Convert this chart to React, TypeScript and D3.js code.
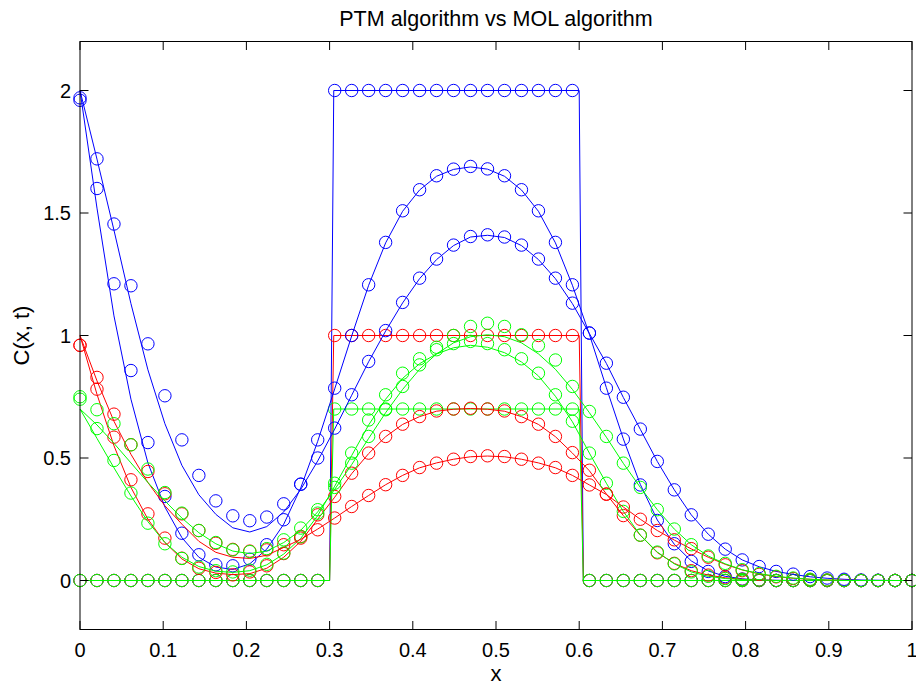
import React from 'react';
import * as d3 from 'd3';

const W = 916;
const H = 685;

// grid of the markers (50 equally spaced points on [0,1])
const xGrid = d3.range(50).map((i) => i / 49);

// initial step (t = 0), drawn as lines
const stepX = [0, 0.3, 0.305, 0.6, 0.605, 1];
const stepBlueLine = [0, 0, 2, 2, 0, 0];
const stepRedLine = [0, 0, 1, 1, 0, 0];
const stepGreenLine = [0, 0, 0.7, 0.7, 0, 0];

// initial step, markers
const stepBlueMarks = [
  0, 0, 0, 0, 0, 0, 0, 0, 0, 0, 0, 0, 0, 0, 0,
  2, 2, 2, 2, 2, 2, 2, 2, 2, 2, 2, 2, 2, 2, 2,
  0, 0, 0, 0, 0, 0, 0, 0, 0, 0, 0, 0, 0, 0, 0, 0, 0, 0, 0, 0,
];
const stepRedMarks = [
  0, 0, 0, 0, 0, 0, 0, 0, 0, 0, 0, 0, 0, 0, 0,
  1, 1, 1, 1, 1, 1, 1, 1, 1, 1, 1, 1, 1, 1, 1,
  0, 0, 0, 0, 0, 0, 0, 0, 0, 0, 0, 0, 0, 0, 0, 0, 0, 0, 0, 0,
];
const stepGreenMarks = [
  0, 0, 0, 0, 0, 0, 0, 0, 0, 0, 0, 0, 0, 0, 0,
  0.7, 0.7, 0.7, 0.7, 0.7, 0.7, 0.7, 0.7, 0.7, 0.7, 0.7, 0.7, 0.7, 0.7, 0.7,
  0, 0, 0, 0, 0, 0, 0, 0, 0, 0, 0, 0, 0, 0, 0, 0, 0, 0, 0, 0,
];

// blue, first time
const blueT1Marks = [
  1.96, 1.6, 1.211, 0.857, 0.563, 0.343, 0.193, 0.105, 0.064, 0.06,
  0.087, 0.146, 0.248, 0.393, 0.574, 0.785, 1.0, 1.207, 1.38, 1.509,
  1.595, 1.652, 1.679, 1.69, 1.68, 1.652, 1.595, 1.509, 1.38, 1.207,
  1.01, 0.785, 0.577, 0.39, 0.245, 0.15, 0.078, 0.037, 0.016, 0.006,
  0.002, 0, 0, 0, 0, 0, 0, 0, 0, 0,
];
const blueT1Line = [
  2.0, 1.52, 1.08, 0.74, 0.48, 0.3, 0.175, 0.095, 0.055, 0.045,
  0.068, 0.128, 0.23, 0.378, 0.568, 0.782, 0.998, 1.205, 1.378, 1.507,
  1.594, 1.65, 1.678, 1.688, 1.679, 1.65, 1.594, 1.507, 1.378, 1.205,
  1.005, 0.787, 0.578, 0.392, 0.247, 0.148, 0.08, 0.039, 0.017, 0.007,
  0.002, 0.001, 0, 0, 0, 0, 0, 0, 0, 0,
];
// blue, second time
const blueT2Marks = [
  1.97, 1.721, 1.455, 1.203, 0.966, 0.754, 0.574, 0.429, 0.325, 0.264,
  0.244, 0.259, 0.313, 0.393, 0.5, 0.622, 0.758, 0.894, 1.02, 1.135,
  1.234, 1.312, 1.369, 1.404, 1.411, 1.402, 1.369, 1.312, 1.234, 1.132,
  1.01, 0.887, 0.748, 0.618, 0.486, 0.37, 0.268, 0.189, 0.128, 0.084,
  0.057, 0.037, 0.026, 0.016, 0.01, 0.005, 0.002, 0.001, 0, 0,
];
const blueT2Line = [
  2.0, 1.72, 1.43, 1.13, 0.86, 0.64, 0.47, 0.35, 0.27, 0.215,
  0.198, 0.22, 0.28, 0.372, 0.488, 0.618, 0.756, 0.893, 1.018, 1.133,
  1.232, 1.31, 1.367, 1.402, 1.409, 1.4, 1.367, 1.31, 1.232, 1.13,
  1.008, 0.886, 0.747, 0.617, 0.486, 0.37, 0.268, 0.189, 0.128, 0.084,
  0.056, 0.037, 0.025, 0.015, 0.009, 0.005, 0.002, 0.001, 0, 0,
];

// red, first time
const redT1Marks = [
  0.96, 0.781, 0.585, 0.411, 0.272, 0.173, 0.091, 0.05, 0.033, 0.023,
  0.035, 0.06, 0.11, 0.18, 0.268, 0.343, 0.438, 0.52, 0.588, 0.638,
  0.669, 0.692, 0.7, 0.703, 0.7, 0.692, 0.669, 0.638, 0.588, 0.522,
  0.45, 0.353, 0.265, 0.185, 0.113, 0.07, 0.04, 0.022, 0.011, 0.005,
  0.002, 0, 0, 0, 0, 0, 0, 0, 0, 0,
];
const redT1Line = [
  1.0, 0.76, 0.55, 0.38, 0.25, 0.155, 0.088, 0.048, 0.03, 0.024,
  0.028, 0.05, 0.095, 0.16, 0.25, 0.34, 0.436, 0.518, 0.587, 0.637,
  0.669, 0.691, 0.699, 0.702, 0.699, 0.691, 0.669, 0.637, 0.587, 0.52,
  0.448, 0.353, 0.265, 0.185, 0.114, 0.07, 0.04, 0.022, 0.011, 0.005,
  0.002, 0, 0, 0, 0, 0, 0, 0, 0, 0,
];
// red, second time
const redT2Marks = [
  0.96, 0.829, 0.679, 0.554, 0.445, 0.354, 0.272, 0.204, 0.152, 0.127,
  0.12, 0.125, 0.146, 0.173, 0.207, 0.255, 0.302, 0.347, 0.391, 0.429,
  0.461, 0.479, 0.495, 0.506, 0.509, 0.506, 0.495, 0.479, 0.461, 0.429,
  0.39, 0.352, 0.3, 0.25, 0.204, 0.166, 0.13, 0.095, 0.064, 0.04,
  0.025, 0.015, 0.008, 0.004, 0.002, 0, 0, 0, 0, 0,
];
const redT2Line = [
  1.0, 0.815, 0.65, 0.515, 0.4, 0.305, 0.23, 0.16, 0.115, 0.095,
  0.09, 0.103, 0.135, 0.168, 0.21, 0.255, 0.302, 0.347, 0.391, 0.429,
  0.46, 0.48, 0.495, 0.505, 0.508, 0.505, 0.495, 0.48, 0.46, 0.429,
  0.39, 0.351, 0.3, 0.25, 0.204, 0.165, 0.129, 0.095, 0.066, 0.043,
  0.027, 0.016, 0.009, 0.005, 0.002, 0.001, 0, 0, 0, 0,
];

// green, first time
const greenT1Marks = [
  0.74, 0.62, 0.49, 0.357, 0.234, 0.15, 0.09, 0.055, 0.04, 0.035,
  0.042, 0.066, 0.112, 0.178, 0.275, 0.397, 0.52, 0.655, 0.758, 0.846,
  0.905, 0.942, 0.967, 0.976, 0.967, 0.942, 0.905, 0.846, 0.758, 0.65,
  0.52, 0.397, 0.282, 0.185, 0.116, 0.068, 0.035, 0.017, 0.008, 0.004,
  0.002, 0, 0, 0, 0, 0, 0, 0, 0, 0,
];
const greenT1Line = [
  0.7, 0.58, 0.46, 0.345, 0.24, 0.155, 0.095, 0.057, 0.038, 0.033,
  0.04, 0.064, 0.108, 0.172, 0.265, 0.385, 0.51, 0.635, 0.74, 0.825,
  0.885, 0.925, 0.95, 0.96, 0.952, 0.93, 0.892, 0.835, 0.752, 0.648,
  0.52, 0.397, 0.282, 0.185, 0.116, 0.068, 0.035, 0.017, 0.008, 0.004,
  0.002, 0, 0, 0, 0, 0, 0, 0, 0, 0,
];
// green, second time
const greenT2Marks = [
  0.75, 0.697, 0.64, 0.554, 0.455, 0.359, 0.275, 0.204, 0.155, 0.125,
  0.118, 0.13, 0.166, 0.214, 0.289, 0.38, 0.479, 0.588, 0.697, 0.792,
  0.88, 0.952, 1.0, 1.037, 1.05, 1.037, 1.003, 0.959, 0.9, 0.792,
  0.69, 0.588, 0.479, 0.38, 0.289, 0.21, 0.146, 0.1, 0.07, 0.044,
  0.028, 0.017, 0.01, 0.005, 0.002, 0, 0, 0, 0, 0,
];
const greenT2Line = [
  0.7, 0.635, 0.56, 0.48, 0.4, 0.325, 0.255, 0.195, 0.15, 0.12,
  0.11, 0.12, 0.155, 0.205, 0.28, 0.372, 0.473, 0.58, 0.685, 0.78,
  0.862, 0.925, 0.97, 0.995, 1.003, 0.995, 0.97, 0.925, 0.862, 0.78,
  0.685, 0.585, 0.478, 0.38, 0.289, 0.21, 0.146, 0.1, 0.068, 0.044,
  0.028, 0.017, 0.01, 0.005, 0.002, 0, 0, 0, 0, 0,
];

const xTicks = [0, 0.1, 0.2, 0.3, 0.4, 0.5, 0.6, 0.7, 0.8, 0.9, 1];
const xTickLabels = ['0', '0.1', '0.2', '0.3', '0.4', '0.5', '0.6', '0.7', '0.8', '0.9', '1'];
const yTicks = [0, 0.5, 1, 1.5, 2];
const yTickLabels = ['0', '0.5', '1', '1.5', '2'];

const BLUE = '#0000ff';
const RED = '#ff0000';
const GREEN = '#00ff00';

type Series = { color: string; lx: number[]; ly: number[]; my: number[] };

const series: Series[] = [
  { color: BLUE, lx: stepX, ly: stepBlueLine, my: stepBlueMarks },
  { color: RED, lx: stepX, ly: stepRedLine, my: stepRedMarks },
  { color: GREEN, lx: stepX, ly: stepGreenLine, my: stepGreenMarks },
  { color: BLUE, lx: xGrid, ly: blueT1Line, my: blueT1Marks },
  { color: RED, lx: xGrid, ly: redT1Line, my: redT1Marks },
  { color: GREEN, lx: xGrid, ly: greenT1Line, my: greenT1Marks },
  { color: BLUE, lx: xGrid, ly: blueT2Line, my: blueT2Marks },
  { color: RED, lx: xGrid, ly: redT2Line, my: redT2Marks },
  { color: GREEN, lx: xGrid, ly: greenT2Line, my: greenT2Marks },
];

const FONT = '"Liberation Sans", Arial, Helvetica, sans-serif';

export default function App() {
  const left = 80;
  const right = 912;
  const top = 41.5;
  const bottom = 629.5;
  const x = d3.scaleLinear().domain([0, 1]).range([left, right]);
  const y = d3.scaleLinear().domain([-0.2, 2.2]).range([bottom, top]);
  const tickLen = 8.5;

  return (
    <svg
      width={W}
      height={H}
      style={{ position: 'absolute', left: 0, top: 0, background: '#fff' }}
      fontFamily={FONT}
    >
      <rect x={0} y={0} width={W} height={H} fill="#fff" />
      <defs>
        <clipPath id="plotclip">
          <rect x={left - 8} y={top} width={right - left + 16} height={bottom - top} />
        </clipPath>
      </defs>
      <g clipPath="url(#plotclip)">
        {series.map((s, k) => {
          const line = d3
            .line<number>()
            .x((_, i) => x(s.lx[i]))
            .y((v) => y(v));
          return (
            <g key={k}>
              <path d={line(s.ly) || ''} fill="none" stroke={s.color} strokeWidth={1} />
              {s.my.map((v, i) => (
                <circle
                  key={i}
                  cx={x(xGrid[i])}
                  cy={y(v)}
                  r={6.2}
                  fill="none"
                  stroke={s.color}
                  strokeWidth={1}
                />
              ))}
            </g>
          );
        })}
      </g>
      {/* axes box */}
      <rect
        x={left}
        y={top}
        width={right - left}
        height={bottom - top}
        fill="none"
        stroke="#000"
        strokeWidth={1}
      />
      {xTicks.map((t, i) => (
        <g key={'xt' + i}>
          <line x1={x(t)} x2={x(t)} y1={bottom} y2={bottom - tickLen} stroke="#000" strokeWidth={1} />
          <line x1={x(t)} x2={x(t)} y1={top} y2={top + tickLen} stroke="#000" strokeWidth={1} />
          <text x={x(t)} y={656.5} fontSize={20} textAnchor="middle" fill="#000">
            {xTickLabels[i]}
          </text>
        </g>
      ))}
      {yTicks.map((t, i) => (
        <g key={'yt' + i}>
          <line x1={left} x2={left + tickLen} y1={y(t)} y2={y(t)} stroke="#000" strokeWidth={1} />
          <line x1={right} x2={right - tickLen} y1={y(t)} y2={y(t)} stroke="#000" strokeWidth={1} />
          <text x={71} y={y(t) + 7.2} fontSize={20} textAnchor="end" fill="#000">
            {yTickLabels[i]}
          </text>
        </g>
      ))}
      <text x={(left + right) / 2} y={25.5} fontSize={21.5} textAnchor="middle" fill="#000">
        PTM algorithm vs MOL algorithm
      </text>
      <text x={(left + right) / 2} y={681} fontSize={22} textAnchor="middle" fill="#000">
        x
      </text>
      <text
        transform={`translate(29, ${(top + bottom) / 2}) rotate(-90)`}
        fontSize={22}
        textAnchor="middle"
        fill="#000"
      >
        C(x, t)
      </text>
    </svg>
  );
}
